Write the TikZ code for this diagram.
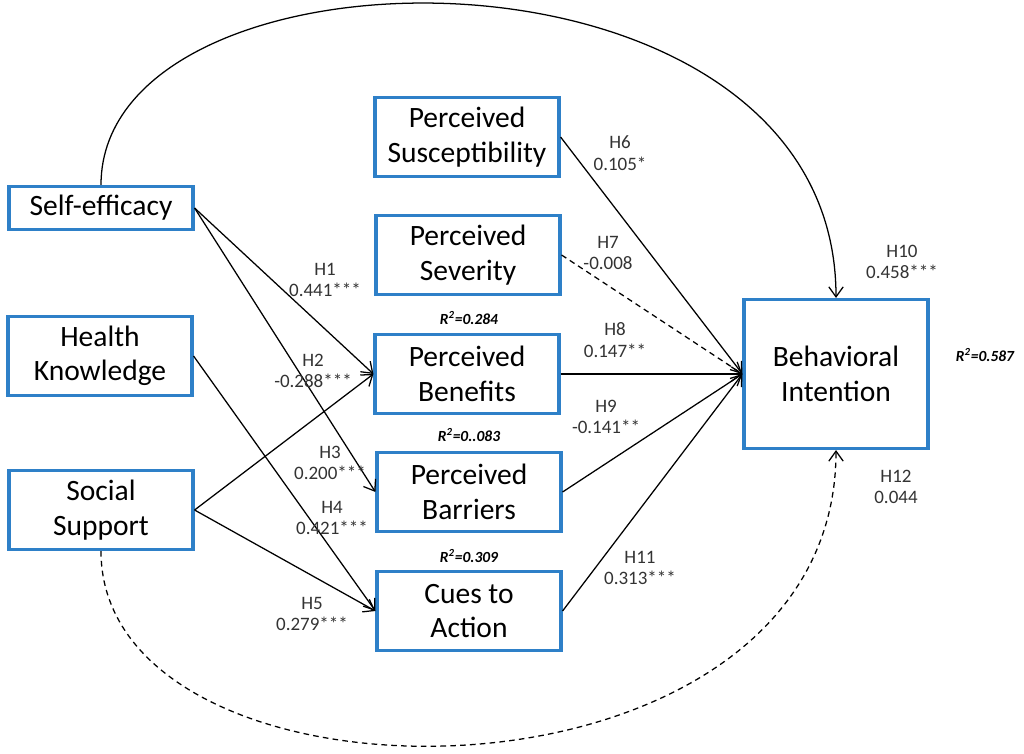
\documentclass[tikz,border=0pt]{standalone}
\usepackage{fontspec}
\setmainfont{Carlito}
\usetikzlibrary{arrows.meta}
\definecolor{boxblue}{RGB}{46,128,200}

\begin{document}
\begin{tikzpicture}
  [x=0.025cm,y=-0.025cm,
  box/.style={draw=boxblue,line width=2.2pt,fill=white,align=center,inner sep=0pt,
    minimum width=4.6cm,minimum height=1.975cm,font=\fontsize{21}{24.5}\selectfont},
  lbl/.style={align=center,text=black!80,inner sep=0pt,font=\fontsize{13.5}{15.5}\selectfont},
  rsq/.style={inner sep=0pt,font=\fontsize{11}{13}\selectfont\bfseries\itshape},
  link/.style={-{Straight Barb[length=2.5mm,width=3.6mm]},line width=0.9pt},
  nslink/.style={link,dash pattern=on 4pt off 3pt}]
  \useasboundingbox (0,0) rectangle (1024,754);

  % predictors
  \node[box,minimum height=1.075cm] (se) at (101,208) {Self-efficacy};
  \node[box] (hk) at (100,356) {Health\\Knowledge};
  \node[box] (ss) at (101,510) {Social\\Support};

  % health belief constructs
  \node[box] (psu) at (467,137) {Perceived\\Susceptibility};
  \node[box] (pse) at (468,255) {Perceived\\Severity};
  \node[box] (pbe) at (467,374) {Perceived\\Benefits};
  \node[box] (pba) at (469,492) {Perceived\\Barriers};
  \node[box] (cta) at (469,611) {Cues to\\Action};

  % outcome
  \node[box,minimum height=3.725cm] (bi) at (836,374) {Behavioral\\Intention};

  % R squared
  \node[rsq] (r1) at (469,318) {R\textsuperscript{2}=0.284};
  \node[rsq] (r2) at (469,435) {R\textsuperscript{2}=0..083};
  \node[rsq] (r3) at (469,556) {R\textsuperscript{2}=0.309};
  \node[rsq] (r4) at (985,355) {R\textsuperscript{2}=0.587};

  % paths
  \draw[link] (se.east) -- (pbe.west);
  \draw[link] (se.east) -- (pba.west);
  \draw[link] (hk.east) -- (cta.west);
  \draw[link] (ss.east) -- (pbe.west);
  \draw[link] (ss.east) -- (cta.west);

  \draw[link] (psu.east) -- (bi.west);
  \draw[nslink] (pse.east) -- (bi.west);
  \draw[link] (pbe.east) -- (bi.west);
  \draw[link] (pba.east) -- (bi.west);
  \draw[link] (cta.east) -- (bi.west);

  \draw[link] (se.north) .. controls (101,-70) and (836,-78) .. (bi.north);
  \draw[nslink] (ss.south) .. controls (101,826) and (836,826) .. (bi.south);

  % coefficients
  \node[lbl] (h1) at (325,280) {H1\\0.441***};
  \node[lbl] (h2) at (313,371) {H2\\-0.288***};
  \node[lbl] (h3) at (330,463) {H3\\0.200***};
  \node[lbl] (h4) at (332,518) {H4\\0.421***};
  \node[lbl] (h5) at (312,614) {H5\\0.279***};
  \node[lbl] (h6) at (620,153) {H6\\0.105*};
  \node[lbl] (h7) at (608,253) {H7\\-0.008};
  \node[lbl] (h8) at (615,340) {H8\\0.147**};
  \node[lbl] (h9) at (606,417) {H9\\-0.141**};
  \node[lbl] (h10) at (902,262) {H10\\0.458***};
  \node[lbl] (h11) at (640,568) {H11\\0.313***};
  \node[lbl] (h12) at (896,487) {H12\\0.044};

\end{tikzpicture}
\end{document}
